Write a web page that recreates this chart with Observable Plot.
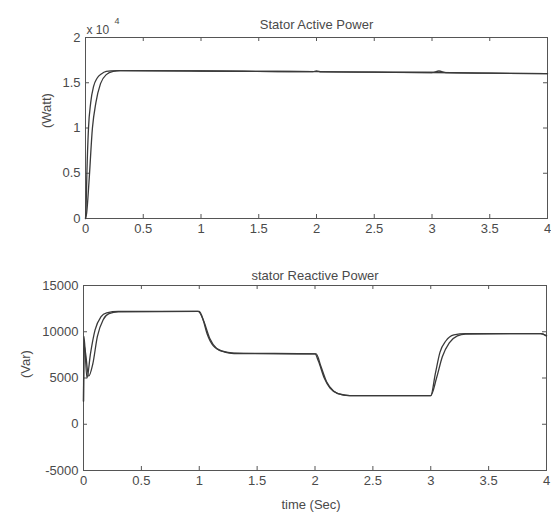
<!DOCTYPE html>
<html>
<head>
<meta charset="utf-8">
<script src="https://cdn.jsdelivr.net/npm/d3@7"></script>
<script src="https://cdn.jsdelivr.net/npm/@observablehq/plot@0.6"></script>
<style>
  html, body { margin: 0; padding: 0; background: #fff; }
  #chart { width: 551px; height: 517px; position: relative; overflow: hidden; }
  #chart svg { display: block; }
</style>
</head>
<body>
<div id="chart"></div>
<script>
// Time axis ticks (s)
const timeTicks = [0, 0.5, 1, 1.5, 2, 2.5, 3, 3.5, 4];

// Stator active power (W): two overlaid responses
const activeTimeA = [0, 0.004, 0.012, 0.026, 0.045, 0.07, 0.1, 0.14, 0.18, 0.22, 0.3, 1, 1.5, 1.97, 2.0, 2.04, 2.5, 3.0, 3.06, 3.12, 3.5, 4];
const activePowerA = [0, 800, 5000, 10000, 12800, 14600, 15500, 16000, 16250, 16320, 16330, 16300, 16260, 16220, 16320, 16210, 16170, 16130, 16300, 16120, 16060, 16000];
const activeTimeB = [0, 0.01, 0.03, 0.06, 0.09, 0.13, 0.18, 0.24, 0.3, 1, 2, 3, 4];
const activePowerB = [0, 600, 4000, 10000, 12800, 14900, 15900, 16250, 16330, 16300, 16220, 16130, 16000];
const activeTicks = [0, 5000, 10000, 15000, 20000];

// Stator reactive power (Var): two overlaid responses
const reactiveTimeA = [0, 0.004, 0.03, 0.06, 0.1, 0.15, 0.2, 0.3, 0.99, 1.03, 1.07, 1.12, 1.2, 1.3, 2.0, 2.03, 2.08, 2.13, 2.2, 2.3, 3.0, 3.04, 3.08, 3.13, 3.2, 3.3, 3.95, 4];
const reactivePowerA = [2500, 9500, 5000, 7600, 10200, 11600, 12050, 12200, 12200, 11400, 9700, 8500, 7900, 7700, 7600, 6800, 5000, 3900, 3300, 3100, 3100, 5500, 7800, 9000, 9650, 9800, 9800, 9550];
const reactiveTimeB = [0, 0.006, 0.045, 0.08, 0.12, 0.17, 0.22, 0.3, 1.0, 1.04, 1.09, 1.15, 1.22, 1.3, 2.01, 2.05, 2.1, 2.16, 2.23, 2.3, 3.0, 3.05, 3.1, 3.16, 3.23, 3.3, 3.95, 4];
const reactivePowerB = [2500, 8500, 5200, 6500, 9500, 11300, 11950, 12150, 12200, 11100, 9300, 8200, 7800, 7650, 7600, 6300, 4600, 3600, 3200, 3100, 3100, 5000, 7300, 8800, 9550, 9750, 9800, 9550];
const reactiveTicks = [-5000, 0, 5000, 10000, 15000];

const rows = (ts, vs, series) => ts.map((t, i) => ({t, v: vs[i], series}));

const ink = "#4a4a4a";
const font = {fontFamily: "'Liberation Sans', Arial, sans-serif", fontSize: "13px", color: ink, background: "#fff", overflow: "visible"};

function panel({width, height, margin, data, yDomain, yTicks, yFormat, title, titleDy, yLabel, yLabelDx, extra = []}) {
  const [mt, mr, mb, ml] = margin;
  const innerH = height - mt - mb;
  const innerW = width - ml - mr;
  const tickLen = 4;
  return Plot.plot({
    width, height,
    marginTop: mt, marginRight: mr, marginBottom: mb, marginLeft: ml,
    style: font,
    x: {domain: [0, 4], ticks: timeTicks},
    y: {domain: yDomain, ticks: yTicks},
    marks: [
      Plot.frame({stroke: "#555", strokeWidth: 1}),
      Plot.axisX(timeTicks, {tickSize: 0, tickPadding: 5, label: null, tickFormat: d => String(d)}),
      Plot.axisY(yTicks, {tickSize: 0, tickPadding: 5, label: null, tickFormat: yFormat}),
      // inward tick marks on all four sides
      Plot.tickX(timeTicks.slice(1, -1), {x: d => d, insetTop: innerH - tickLen, stroke: "#555"}),
      Plot.tickX(timeTicks.slice(1, -1), {x: d => d, insetBottom: innerH - tickLen, stroke: "#555"}),
      Plot.tickY(yTicks.slice(1, -1), {y: d => d, insetRight: innerW - tickLen, stroke: "#555"}),
      Plot.tickY(yTicks.slice(1, -1), {y: d => d, insetLeft: innerW - tickLen, stroke: "#555"}),
      Plot.line(data, {x: "t", y: "v", z: "series", stroke: "#3a3a3a", strokeWidth: 1.3, curve: "monotone-x"}),
      Plot.text([title], {text: d => d, frameAnchor: "top", dy: titleDy, fill: ink, fontSize: 13}),
      Plot.text([yLabel], {text: d => d, frameAnchor: "left", dx: yLabelDx, rotate: -90, fill: ink, fontSize: 13}),
      ...extra
    ]
  });
}

const activePanel = panel({
  width: 551, height: 250, margin: [37, 4, 32, 85],
  data: [...rows(activeTimeA, activePowerA, "a"), ...rows(activeTimeB, activePowerB, "b")],
  yDomain: [0, 20000], yTicks: activeTicks, yFormat: d => String(d / 1e4),
  title: "Stator Active Power", titleDy: -18,
  yLabel: "(Watt)", yLabelDx: -39,
  extra: [
    Plot.text(["x 10"], {text: d => d, frameAnchor: "top-left", textAnchor: "start", dx: 1, dy: -12, fill: ink, fontSize: 12}),
    Plot.text(["4"], {text: d => d, frameAnchor: "top-left", textAnchor: "start", dx: 29, dy: -20, fill: ink, fontSize: 9})
  ]
});

const reactivePanel = panel({
  width: 551, height: 267, margin: [35, 5, 47, 83],
  data: [...rows(reactiveTimeA, reactivePowerA, "a"), ...rows(reactiveTimeB, reactivePowerB, "b")],
  yDomain: [-5000, 15000], yTicks: reactiveTicks, yFormat: d => String(d),
  title: "stator Reactive Power", titleDy: -15,
  yLabel: "(Var)", yLabelDx: -58,
  extra: [
    Plot.text(["time (Sec)"], {text: d => d, frameAnchor: "bottom", dx: -4, dy: 38, fill: ink, fontSize: 13})
  ]
});

document.getElementById("chart").append(activePanel, reactivePanel);
</script>
</body>
</html>
